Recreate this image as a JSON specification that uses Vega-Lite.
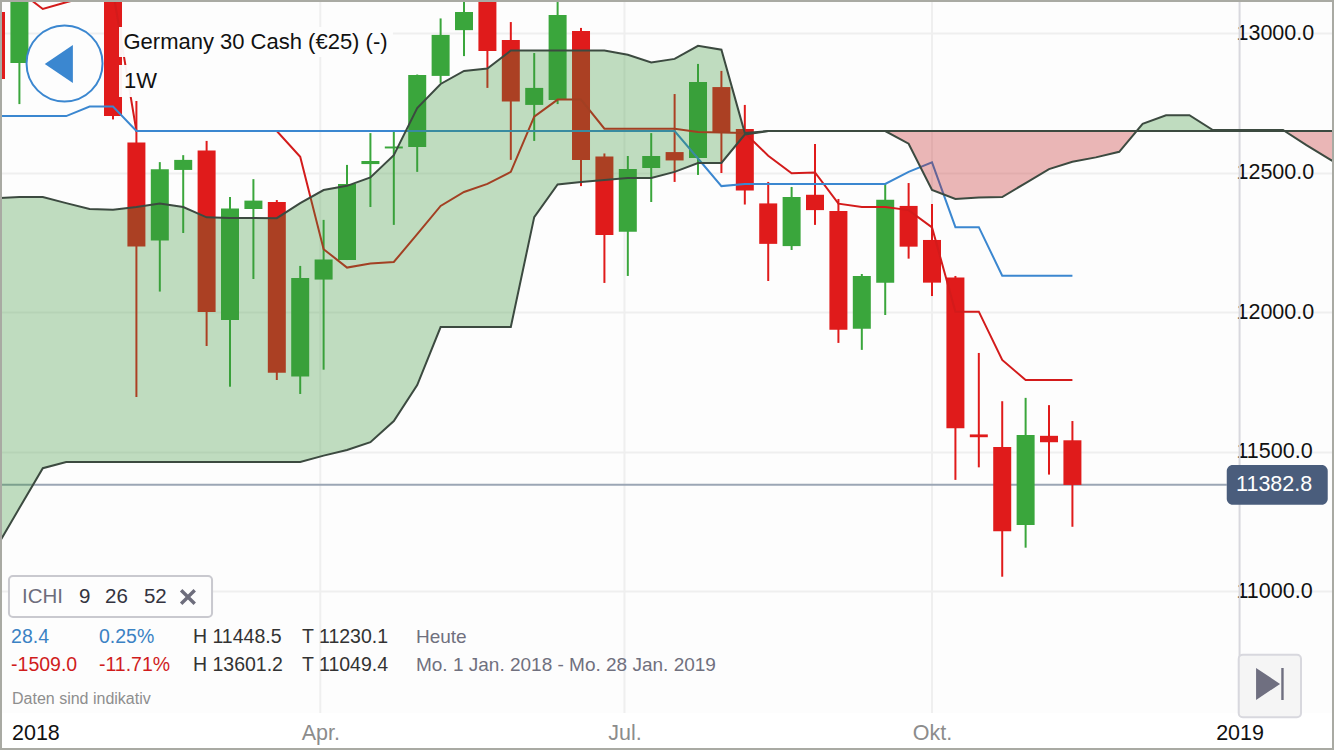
{
  "$schema": "https://vega.github.io/schema/vega-lite/v6.json",
  "width": 1334,
  "height": 750,
  "padding": 0,
  "autosize": {"type": "none"},
  "background": "#fdfdfd",
  "config": {
    "view": {"stroke": null},
    "font": "Liberation Sans",
    "text": {"font": "Liberation Sans"}
  },
  "datasets": {
    "weeks": [
      {"date":"2017-12-25","open":13077,"high":13100,"low":12800,"close":12837,"tenkan":13152,"kijun":12704,"spanA":12410,"spanB":11156},
      {"date":"2018-01-01","open":12894,"high":13200,"low":12747,"close":13156,"tenkan":13152,"kijun":12704,"spanA":12414,"spanB":11299},
      {"date":"2018-01-08","tenkan":13088,"kijun":12704,"spanA":12414,"spanB":11442},
      {"date":"2018-01-15","tenkan":13112,"kijun":12704,"spanA":12392,"spanB":11464},
      {"date":"2018-01-22","tenkan":13134,"kijun":12738,"spanA":12371,"spanB":11464},
      {"date":"2018-01-29","open":13156,"high":13200,"low":12692,"close":12704,"tenkan":13152,"kijun":12738,"spanA":12368,"spanB":11464},
      {"date":"2018-02-05","open":12609,"high":12758,"low":11697,"close":12237,"tenkan":12650.5,"kijun":12650.5,"spanA":12378,"spanB":11464},
      {"date":"2018-02-12","open":12258,"high":12539,"low":12075,"close":12513,"tenkan":12650.5,"kijun":12650.5,"spanA":12391,"spanB":11464},
      {"date":"2018-02-19","open":12511,"high":12564,"low":12285,"close":12547,"tenkan":12650.5,"kijun":12650.5,"spanA":12378,"spanB":11464},
      {"date":"2018-02-26","open":12581,"high":12615,"low":11880,"close":12002,"tenkan":12650.5,"kijun":12650.5,"spanA":12341,"spanB":11464},
      {"date":"2018-03-05","open":11973,"high":12414,"low":11734,"close":12373,"tenkan":12650.5,"kijun":12650.5,"spanA":12339,"spanB":11464},
      {"date":"2018-03-12","open":12371,"high":12478,"low":12120,"close":12401,"tenkan":12650.5,"kijun":12650.5,"spanA":12339,"spanB":11464},
      {"date":"2018-03-19","open":12396,"high":12403,"low":11758,"close":11784,"tenkan":12650.5,"kijun":12650.5,"spanA":12338,"spanB":11464},
      {"date":"2018-03-26","open":11771,"high":12167,"low":11708,"close":12124,"tenkan":12558,"kijun":12650.5,"spanA":12392,"spanB":11464},
      {"date":"2018-04-02","open":12118,"high":12332,"low":11795,"close":12190,"tenkan":12227,"kijun":12650.5,"spanA":12439,"spanB":11487},
      {"date":"2018-04-09","open":12188,"high":12529,"low":12188,"close":12461,"tenkan":12161,"kijun":12650.5,"spanA":12454,"spanB":11507},
      {"date":"2018-04-16","open":12532,"high":12643,"low":12378,"close":12543,"tenkan":12176,"kijun":12650.5,"spanA":12484,"spanB":11535},
      {"date":"2018-04-23","open":12588,"high":12650,"low":12314,"close":12595,"tenkan":12181,"kijun":12650.5,"spanA":12564,"spanB":11611},
      {"date":"2018-04-30","open":12593,"high":12853,"low":12504,"close":12851,"tenkan":12281,"kijun":12650.5,"spanA":12733,"spanB":11740},
      {"date":"2018-05-07","open":12848,"high":13054,"low":12823,"close":12995,"tenkan":12382,"kijun":12650.5,"spanA":12819,"spanB":11948},
      {"date":"2018-05-14","open":13012,"high":13140,"low":12919,"close":13077,"tenkan":12432,"kijun":12650.5,"spanA":12866,"spanB":11948},
      {"date":"2018-05-21","open":13192,"high":13220,"low":12805,"close":12937,"tenkan":12461,"kijun":12650.5,"spanA":12874.5,"spanB":11948},
      {"date":"2018-05-28","open":12977,"high":13041,"low":12547,"close":12756,"tenkan":12504,"kijun":12650.5,"spanA":12939,"spanB":11948},
      {"date":"2018-06-04","open":12744,"high":12930,"low":12615,"close":12805,"tenkan":12702,"kijun":12650.5,"spanA":12939,"spanB":12342},
      {"date":"2018-06-11","open":12762,"high":13140,"low":12747,"close":13066,"tenkan":12763,"kijun":12650.5,"spanA":12939,"spanB":12459},
      {"date":"2018-06-18","open":13009,"high":13020,"low":12453,"close":12547,"tenkan":12763,"kijun":12650.5,"spanA":12939,"spanB":12468},
      {"date":"2018-06-25","open":12559,"high":12570,"low":12106,"close":12278,"tenkan":12659,"kijun":12650.5,"spanA":12939,"spanB":12475},
      {"date":"2018-07-02","open":12289,"high":12561,"low":12131,"close":12514,"tenkan":12659,"kijun":12650.5,"spanA":12924,"spanB":12482},
      {"date":"2018-07-09","open":12518,"high":12643,"low":12396,"close":12561,"tenkan":12659,"kijun":12650.5,"spanA":12896,"spanB":12482},
      {"date":"2018-07-16","open":12575,"high":12783,"low":12468,"close":12545,"tenkan":12659,"kijun":12650.5,"spanA":12909,"spanB":12504},
      {"date":"2018-07-23","open":12554,"high":12891,"low":12493,"close":12826,"tenkan":12647,"kijun":12552,"spanA":12956,"spanB":12536},
      {"date":"2018-07-30","open":12808,"high":12866,"low":12500,"close":12645,"tenkan":12645,"kijun":12453,"spanA":12942,"spanB":12536},
      {"date":"2018-08-06","open":12658,"high":12744,"low":12387,"close":12437,"tenkan":12643,"kijun":12461,"spanA":12643,"spanB":12638},
      {"date":"2018-08-13","open":12391,"high":12468,"low":12113,"close":12246,"tenkan":12562,"kijun":12461,"spanA":12650.5,"spanB":12650.5},
      {"date":"2018-08-20","open":12238,"high":12450,"low":12224,"close":12414,"tenkan":12499,"kijun":12461,"spanA":12650.5,"spanB":12650.5},
      {"date":"2018-08-27","open":12422,"high":12604,"low":12314,"close":12367,"tenkan":12502,"kijun":12461,"spanA":12650.5,"spanB":12650.5},
      {"date":"2018-09-03","open":12364,"high":12407,"low":11891,"close":11938,"tenkan":12390,"kijun":12461,"spanA":12650.5,"spanB":12650.5},
      {"date":"2018-09-10","open":11942,"high":12138,"low":11866,"close":12131,"tenkan":12378,"kijun":12461,"spanA":12650.5,"spanB":12650.5},
      {"date":"2018-09-17","open":12107,"high":12461,"low":11991,"close":12404,"tenkan":12378,"kijun":12461,"spanA":12650.5,"spanB":12650.5},
      {"date":"2018-09-24","open":12382,"high":12464,"low":12193,"close":12236,"tenkan":12367,"kijun":12504,"spanA":12605,"spanB":12650.5},
      {"date":"2018-10-01","open":12260,"high":12389,"low":12059,"close":12107,"tenkan":12305,"kijun":12538,"spanA":12439,"spanB":12650.5},
      {"date":"2018-10-08","open":12125,"high":12131,"low":11400,"close":11585,"tenkan":12003,"kijun":12306,"spanA":12407,"spanB":12650.5},
      {"date":"2018-10-15","open":11563,"high":11855,"low":11445,"close":11553,"tenkan":12003,"kijun":12306,"spanA":12412,"spanB":12650.5},
      {"date":"2018-10-22","open":11518,"high":11682,"low":11053,"close":11216,"tenkan":11830,"kijun":12132,"spanA":12414,"spanB":12650.5},
      {"date":"2018-10-29","open":11238,"high":11694,"low":11157,"close":11561,"tenkan":11758,"kijun":12132,"spanA":12464,"spanB":12650.5},
      {"date":"2018-11-05","open":11558,"high":11668,"low":11419,"close":11535,"tenkan":11758,"kijun":12132,"spanA":12514,"spanB":12650.5},
      {"date":"2018-11-12","open":11542,"high":11611,"low":11232,"close":11382,"tenkan":11758,"kijun":12132,"spanA":12540,"spanB":12650.5},
      {"date":"2018-11-19","spanA":12556,"spanB":12650.5},
      {"date":"2018-11-26","spanA":12576,"spanB":12650.5},
      {"date":"2018-12-03","spanA":12676,"spanB":12650.5},
      {"date":"2018-12-10","spanA":12707,"spanB":12650.5},
      {"date":"2018-12-17","spanA":12707,"spanB":12650.5},
      {"date":"2018-12-24","spanA":12654,"spanB":12650.5},
      {"date":"2018-12-31","spanA":12654,"spanB":12650.5},
      {"date":"2019-01-07","spanA":12654,"spanB":12650.5},
      {"date":"2019-01-14","spanA":12654,"spanB":12650.5},
      {"date":"2019-01-21","spanA":12600,"spanB":12650.5},
      {"date":"2019-01-28","spanA":12549,"spanB":12650.5},
      {"date":"2019-02-04","spanA":12500,"spanB":12650.5}
    ],
    "cloud": [
      {"segment":"g1","kind":"up","date":"2017-12-25","spanA":12410,"spanB":11156},
      {"segment":"g1","kind":"up","date":"2018-01-01","spanA":12414,"spanB":11299},
      {"segment":"g1","kind":"up","date":"2018-01-08","spanA":12414,"spanB":11442},
      {"segment":"g1","kind":"up","date":"2018-01-15","spanA":12392,"spanB":11464},
      {"segment":"g1","kind":"up","date":"2018-01-22","spanA":12371,"spanB":11464},
      {"segment":"g1","kind":"up","date":"2018-01-29","spanA":12368,"spanB":11464},
      {"segment":"g1","kind":"up","date":"2018-02-05","spanA":12378,"spanB":11464},
      {"segment":"g1","kind":"up","date":"2018-02-12","spanA":12391,"spanB":11464},
      {"segment":"g1","kind":"up","date":"2018-02-19","spanA":12378,"spanB":11464},
      {"segment":"g1","kind":"up","date":"2018-02-26","spanA":12341,"spanB":11464},
      {"segment":"g1","kind":"up","date":"2018-03-05","spanA":12339,"spanB":11464},
      {"segment":"g1","kind":"up","date":"2018-03-12","spanA":12339,"spanB":11464},
      {"segment":"g1","kind":"up","date":"2018-03-19","spanA":12338,"spanB":11464},
      {"segment":"g1","kind":"up","date":"2018-03-26","spanA":12392,"spanB":11464},
      {"segment":"g1","kind":"up","date":"2018-04-02","spanA":12439,"spanB":11487},
      {"segment":"g1","kind":"up","date":"2018-04-09","spanA":12454,"spanB":11507},
      {"segment":"g1","kind":"up","date":"2018-04-16","spanA":12484,"spanB":11535},
      {"segment":"g1","kind":"up","date":"2018-04-23","spanA":12564,"spanB":11611},
      {"segment":"g1","kind":"up","date":"2018-04-30","spanA":12733,"spanB":11740},
      {"segment":"g1","kind":"up","date":"2018-05-07","spanA":12819,"spanB":11948},
      {"segment":"g1","kind":"up","date":"2018-05-14","spanA":12866,"spanB":11948},
      {"segment":"g1","kind":"up","date":"2018-05-21","spanA":12874.5,"spanB":11948},
      {"segment":"g1","kind":"up","date":"2018-05-28","spanA":12939,"spanB":11948},
      {"segment":"g1","kind":"up","date":"2018-06-04","spanA":12939,"spanB":12342},
      {"segment":"g1","kind":"up","date":"2018-06-11","spanA":12939,"spanB":12459},
      {"segment":"g1","kind":"up","date":"2018-06-18","spanA":12939,"spanB":12468},
      {"segment":"g1","kind":"up","date":"2018-06-25","spanA":12939,"spanB":12475},
      {"segment":"g1","kind":"up","date":"2018-07-02","spanA":12924,"spanB":12482},
      {"segment":"g1","kind":"up","date":"2018-07-09","spanA":12896,"spanB":12482},
      {"segment":"g1","kind":"up","date":"2018-07-16","spanA":12909,"spanB":12504},
      {"segment":"g1","kind":"up","date":"2018-07-23","spanA":12956,"spanB":12536},
      {"segment":"g1","kind":"up","date":"2018-07-30","spanA":12942,"spanB":12536},
      {"segment":"g1","kind":"up","date":"2018-08-06","spanA":12643,"spanB":12638},
      {"segment":"p1","kind":"down","date":"2018-09-17","spanA":12650.5,"spanB":12650.5},
      {"segment":"p1","kind":"down","date":"2018-09-24","spanA":12605,"spanB":12650.5},
      {"segment":"p1","kind":"down","date":"2018-10-01","spanA":12439,"spanB":12650.5},
      {"segment":"p1","kind":"down","date":"2018-10-08","spanA":12407,"spanB":12650.5},
      {"segment":"p1","kind":"down","date":"2018-10-15","spanA":12412,"spanB":12650.5},
      {"segment":"p1","kind":"down","date":"2018-10-22","spanA":12414,"spanB":12650.5},
      {"segment":"p1","kind":"down","date":"2018-10-29","spanA":12464,"spanB":12650.5},
      {"segment":"p1","kind":"down","date":"2018-11-05","spanA":12514,"spanB":12650.5},
      {"segment":"p1","kind":"down","date":"2018-11-12","spanA":12540,"spanB":12650.5},
      {"segment":"p1","kind":"down","date":"2018-11-19","spanA":12556,"spanB":12650.5},
      {"segment":"p1","kind":"down","date":"2018-11-26","spanA":12576,"spanB":12650.5},
      {"segment":"p1","kind":"down","date":"2018-12-01T06:00:00Z","spanA":12650.5,"spanB":12650.5},
      {"segment":"g2","kind":"up","date":"2018-12-01T06:00:00Z","spanA":12650.5,"spanB":12650.5},
      {"segment":"g2","kind":"up","date":"2018-12-03","spanA":12676,"spanB":12650.5},
      {"segment":"g2","kind":"up","date":"2018-12-10","spanA":12707,"spanB":12650.5},
      {"segment":"g2","kind":"up","date":"2018-12-17","spanA":12707,"spanB":12650.5},
      {"segment":"g2","kind":"up","date":"2018-12-24","spanA":12654,"spanB":12650.5},
      {"segment":"g2","kind":"up","date":"2019-01-14","spanA":12654,"spanB":12650.5},
      {"segment":"p2","kind":"down","date":"2019-01-15","spanA":12650.5,"spanB":12650.5},
      {"segment":"p2","kind":"down","date":"2019-01-21","spanA":12600,"spanB":12650.5},
      {"segment":"p2","kind":"down","date":"2019-01-28","spanA":12549,"spanB":12650.5},
      {"segment":"p2","kind":"down","date":"2019-02-04","spanA":12500,"spanB":12650.5}
    ],
    "notes": [
      {"group":"title","date":"2018-02-01T03:00:00Z","price":12969.5,"text":"Germany 30 Cash (€25) (-)"},
      {"group":"title","date":"2018-02-01T07:00:00Z","price":12829.8,"text":"1W"},
      {"group":"ichiLabel","date":"2018-01-01T19:00:00Z","price":10980.3,"text":"ICHI"},
      {"group":"ichiValue","date":"2018-01-18T20:00:00Z","price":10980.3,"text":"9"},
      {"group":"ichiValue","date":"2018-01-26T15:00:00Z","price":10980.3,"text":"26"},
      {"group":"ichiValue","date":"2018-02-07T06:00:00Z","price":10980.3,"text":"52"},
      {"group":"gain","date":"2017-12-29T12:00:00Z","price":10836.9,"text":"28.4"},
      {"group":"gain","date":"2018-01-24T19:00:00Z","price":10836.9,"text":"0.25%"},
      {"group":"stat","date":"2018-02-21T22:00:00Z","price":10836.9,"text":"H 11448.5"},
      {"group":"stat","date":"2018-03-26T13:00:00Z","price":10836.9,"text":"T 11230.1"},
      {"group":"range","date":"2018-04-29T15:00:00Z","price":10836.9,"text":"Heute"},
      {"group":"loss","date":"2017-12-29T12:00:00Z","price":10736.6,"text":"-1509.0"},
      {"group":"loss","date":"2018-01-24T19:00:00Z","price":10736.6,"text":"-11.71%"},
      {"group":"stat","date":"2018-02-21T22:00:00Z","price":10736.6,"text":"H 13601.2"},
      {"group":"stat","date":"2018-03-26T13:00:00Z","price":10736.6,"text":"T 11049.4"},
      {"group":"range","date":"2018-04-29T15:00:00Z","price":10736.6,"text":"Mo. 1 Jan. 2018 - Mo. 28 Jan. 2019"},
      {"group":"disclaimer","date":"2017-12-29T19:00:00Z","price":10614.7,"text":"Daten sind indikativ"},
      {"group":"tag","date":"2018-12-30T23:00:00Z","price":11382.8,"text":"11382.8"}
    ]
  },
  "encoding": {
    "x": {
      "field": "date",
      "type": "temporal",
      "title": null,
      "scale": {"type": "utc", "domain": ["2017-12-26T04:40:00Z", "2019-01-29T06:00:00Z"], "padding": 0},
      "axis": {
        "orient": "bottom",
        "offset": -37,
        "zindex": 1,
        "values": ["2018-01-01", "2018-04-01", "2018-07-01", "2018-10-01", "2019-01-01"],
        "labelExpr": "utcmonth(datum.value) == 0 ? utcyear(datum.value) + '' : ['', '', '', 'Apr.', '', '', 'Jul.', '', '', 'Okt.'][utcmonth(datum.value)]",
        "labelFont": "Liberation Sans",
        "labelFontSize": 21.5,
        "labelPadding": 9,
        "labelFlush": false,
        "labelColor": {"condition": {"test": "utcmonth(datum.value) == 0", "value": "#111111"}, "value": "#8c8c8c"},
        "labelOffset": {"condition": {"test": "utcyear(datum.value) == 2018 && utcmonth(datum.value) == 0", "value": 16}, "value": 0},
        "ticks": false,
        "domain": false,
        "grid": false
      }
    }
  },
  "layer": [
    {
      "data": {"values": [
        {"date": "2018-04-01", "price": 10564.5, "price2": 13120.07},
        {"date": "2018-07-01", "price": 10564.5, "price2": 13120.07},
        {"date": "2018-10-01", "price": 10564.5, "price2": 13120.07}
      ]},
      "mark": {"type": "rule", "color": "#efefef", "strokeWidth": 2},
      "encoding": {
        "y": {
          "field": "price",
          "type": "quantitative",
          "title": null,
          "scale": {"domain": [10431.9, 13120.07], "nice": false, "zero": false},
          "axis": {
            "orient": "right",
            "offset": -98,
            "zindex": 0,
            "values": [11000, 11500, 12000, 12500, 13000],
            "format": ".1f",
            "labelFont": "Liberation Sans",
            "labelFontSize": 21.5,
            "labelColor": "#111111",
            "labelPadding": 0,
            "ticks": false,
            "domain": false,
            "grid": true,
            "gridColor": "#efefef",
            "gridWidth": 2
          }
        },
        "y2": {"field": "price2"}
      }
    },
    {
      "data": {"values": [{"date": "2019-01-01", "price": 10564.5, "price2": 13120.07}]},
      "mark": {"type": "rule", "color": "#d8d8de", "strokeWidth": 2},
      "encoding": {
        "y": {"field": "price", "type": "quantitative"},
        "y2": {"field": "price2"}
      }
    },
    {
      "data": {"values": [{"date": "2017-12-26T04:40:00Z", "date2": "2018-12-28T04:00:00Z", "price": 11382.8}]},
      "mark": {"type": "rule", "color": "#9ba6b5", "strokeWidth": 2},
      "encoding": {
        "x2": {"field": "date2"},
        "y": {"field": "price", "type": "quantitative"}
      }
    },
    {
      "data": {"name": "weeks"},
      "mark": {"type": "rule", "strokeWidth": 2},
      "encoding": {
        "y": {"field": "low", "type": "quantitative"},
        "y2": {"field": "high"},
        "color": {"condition": {"test": "datum.close >= datum.open", "value": "#3aa63c"}, "value": "#e01b1b"}
      }
    },
    {
      "data": {"name": "weeks"},
      "mark": {"type": "bar", "size": 18, "orient": "vertical"},
      "encoding": {
        "y": {"field": "open", "type": "quantitative"},
        "y2": {"field": "close"},
        "color": {"condition": {"test": "datum.close >= datum.open", "value": "#3aa63c"}, "value": "#e01b1b"}
      }
    },
    {
      "data": {"name": "weeks"},
      "mark": {"type": "line", "color": "#d31b1b", "strokeWidth": 2},
      "encoding": {"y": {"field": "tenkan", "type": "quantitative"}}
    },
    {
      "data": {"name": "weeks"},
      "mark": {"type": "line", "color": "#3b87d0", "strokeWidth": 2},
      "encoding": {"y": {"field": "kijun", "type": "quantitative"}}
    },
    {
      "data": {"name": "cloud"},
      "mark": {"type": "area", "opacity": 0.31, "orient": "vertical"},
      "encoding": {
        "y": {"field": "spanA", "type": "quantitative"},
        "y2": {"field": "spanB"},
        "detail": {"field": "segment"},
        "color": {
          "field": "kind",
          "type": "nominal",
          "legend": null,
          "scale": {"domain": ["up", "down"], "range": ["#379437", "#c11a1a"]}
        }
      }
    },
    {
      "data": {"name": "weeks"},
      "mark": {"type": "line", "color": "#3c4a40", "strokeWidth": 2},
      "encoding": {"y": {"field": "spanB", "type": "quantitative"}}
    },
    {
      "data": {"name": "weeks"},
      "mark": {"type": "line", "color": "#3c4a40", "strokeWidth": 2},
      "encoding": {"y": {"field": "spanA", "type": "quantitative"}}
    },
    {
      "data": {"values": [
        {"date": "2017-12-26T04:40:00Z", "date2": "2019-01-29T06:00:00Z", "price": 10564.5, "price2": 10431.9}
      ]},
      "mark": {"type": "rect", "color": "#ffffff"},
      "encoding": {
        "x2": {"field": "date2"},
        "y": {"field": "price", "type": "quantitative"},
        "y2": {"field": "price2"}
      }
    },
    {
      "data": {"values": [
        {"date": "2018-01-30T19:00:00Z", "date2": "2018-04-22T18:00:00Z", "price": 13023.3, "price2": 12915.8},
        {"date": "2018-01-30T19:00:00Z", "date2": "2018-02-12T01:00:00Z", "price": 12887.1, "price2": 12772.4}
      ]},
      "mark": {"type": "rect", "color": "#fdfdfd", "opacity": 0.95},
      "encoding": {
        "x2": {"field": "date2"},
        "y": {"field": "price", "type": "quantitative"},
        "y2": {"field": "price2"}
      }
    },
    {
      "data": {"values": [
        {"date": "2017-12-28T21:00:00Z", "date2": "2018-02-27T15:00:00Z", "price": 11055.6, "price2": 10908.7}
      ]},
      "mark": {"type": "rect", "fill": "#fdfdfd", "stroke": "#c9c9cf", "strokeWidth": 2, "cornerRadius": 4},
      "encoding": {
        "x2": {"field": "date2"},
        "y": {"field": "price", "type": "quantitative"},
        "y2": {"field": "price2"}
      }
    },
    {
      "data": {"values": [
        {"date": "2018-12-31T18:00:00Z", "date2": "2019-01-19T09:00:00Z", "price": 10773.5, "price2": 10549.2}
      ]},
      "mark": {"type": "rect", "fill": "#f5f5f5", "stroke": "#d8d8de", "strokeWidth": 2, "cornerRadius": 4},
      "encoding": {
        "x2": {"field": "date2"},
        "y": {"field": "price", "type": "quantitative"},
        "y2": {"field": "price2"}
      }
    },
    {
      "data": {"values": [
        {"date": "2018-12-28T04:00:00Z", "date2": "2019-01-27T09:00:00Z", "price": 11453.4, "price2": 11311.1}
      ]},
      "mark": {"type": "rect", "color": "#4a5d7c", "cornerRadius": 6},
      "encoding": {
        "x2": {"field": "date2"},
        "y": {"field": "price", "type": "quantitative"},
        "y2": {"field": "price2"}
      }
    },
    {
      "data": {"values": [{"date": "2018-01-14T12:00:00Z", "price": 12892.5}]},
      "mark": {"type": "point", "shape": "circle", "size": 5776, "filled": true, "fill": "#fdfdfd", "stroke": "#3b87d0", "strokeWidth": 2, "opacity": 1},
      "encoding": {"y": {"field": "price", "type": "quantitative"}}
    },
    {
      "data": {"values": [{"date": "2018-01-12T19:00:00Z", "price": 12890.7}]},
      "mark": {"type": "point", "shape": "M 0.74 -1 L 0.74 1 L -0.74 0 Z", "size": 1444, "filled": true, "color": "#3b87d0", "opacity": 1},
      "encoding": {"y": {"field": "price", "type": "quantitative"}}
    },
    {
      "data": {"values": [{"date": "2019-01-10T03:00:00Z", "price": 10668.5}]},
      "mark": {"type": "point", "shape": "M -0.875 -1 L 0.625 0 L -0.875 1 Z M 0.7 -1 L 0.85 -1 L 0.85 1 L 0.7 1 Z", "size": 1024, "filled": true, "color": "#6f6f80", "opacity": 1},
      "encoding": {"y": {"field": "price", "type": "quantitative"}}
    },
    {
      "data": {"values": [{"date": "2018-02-20T10:00:00Z", "price": 10980.3}]},
      "mark": {"type": "point", "shape": "M -1 -0.7 L -0.7 -1 L 0 -0.3 L 0.7 -1 L 1 -0.7 L 0.3 0 L 1 0.7 L 0.7 1 L 0 0.3 L -0.7 1 L -1 0.7 L -0.3 0 Z", "size": 256, "filled": true, "color": "#6d6d7c", "opacity": 1},
      "encoding": {"y": {"field": "price", "type": "quantitative"}}
    },
    {
      "data": {"name": "notes"},
      "encoding": {
        "y": {"field": "price", "type": "quantitative"},
        "text": {"field": "text"}
      },
      "layer": [
        {"transform": [{"filter": "datum.group == 'title'"}], "mark": {"type": "text", "align": "left", "baseline": "middle", "color": "#111111", "fontSize": 22}},
        {"transform": [{"filter": "datum.group == 'ichiLabel'"}], "mark": {"type": "text", "align": "left", "baseline": "middle", "color": "#6d6d7c", "fontSize": 20.5}},
        {"transform": [{"filter": "datum.group == 'ichiValue'"}], "mark": {"type": "text", "align": "left", "baseline": "middle", "color": "#333340", "fontSize": 20.5}},
        {"transform": [{"filter": "datum.group == 'gain'"}], "mark": {"type": "text", "align": "left", "baseline": "middle", "color": "#3b82c4", "fontSize": 19.5}},
        {"transform": [{"filter": "datum.group == 'loss'"}], "mark": {"type": "text", "align": "left", "baseline": "middle", "color": "#d01c1c", "fontSize": 19.5}},
        {"transform": [{"filter": "datum.group == 'stat'"}], "mark": {"type": "text", "align": "left", "baseline": "middle", "color": "#333333", "fontSize": 19.5}},
        {"transform": [{"filter": "datum.group == 'range'"}], "mark": {"type": "text", "align": "left", "baseline": "middle", "color": "#70707e", "fontSize": 19}},
        {"transform": [{"filter": "datum.group == 'disclaimer'"}], "mark": {"type": "text", "align": "left", "baseline": "middle", "color": "#8e8e8e", "fontSize": 16}},
        {"transform": [{"filter": "datum.group == 'tag'"}], "mark": {"type": "text", "align": "left", "baseline": "middle", "color": "#ffffff", "fontSize": 21.5}}
      ]
    },
    {
      "data": {"values": [
        {"date": "2017-12-26T04:40:00Z", "date2": "2019-01-29T06:00:00Z", "price": 10431.9, "price2": 13120.07}
      ]},
      "mark": {"type": "rect", "fill": null, "stroke": "#a9aaa3", "strokeWidth": 4},
      "encoding": {
        "x2": {"field": "date2"},
        "y": {"field": "price", "type": "quantitative"},
        "y2": {"field": "price2"}
      }
    }
  ]
}
